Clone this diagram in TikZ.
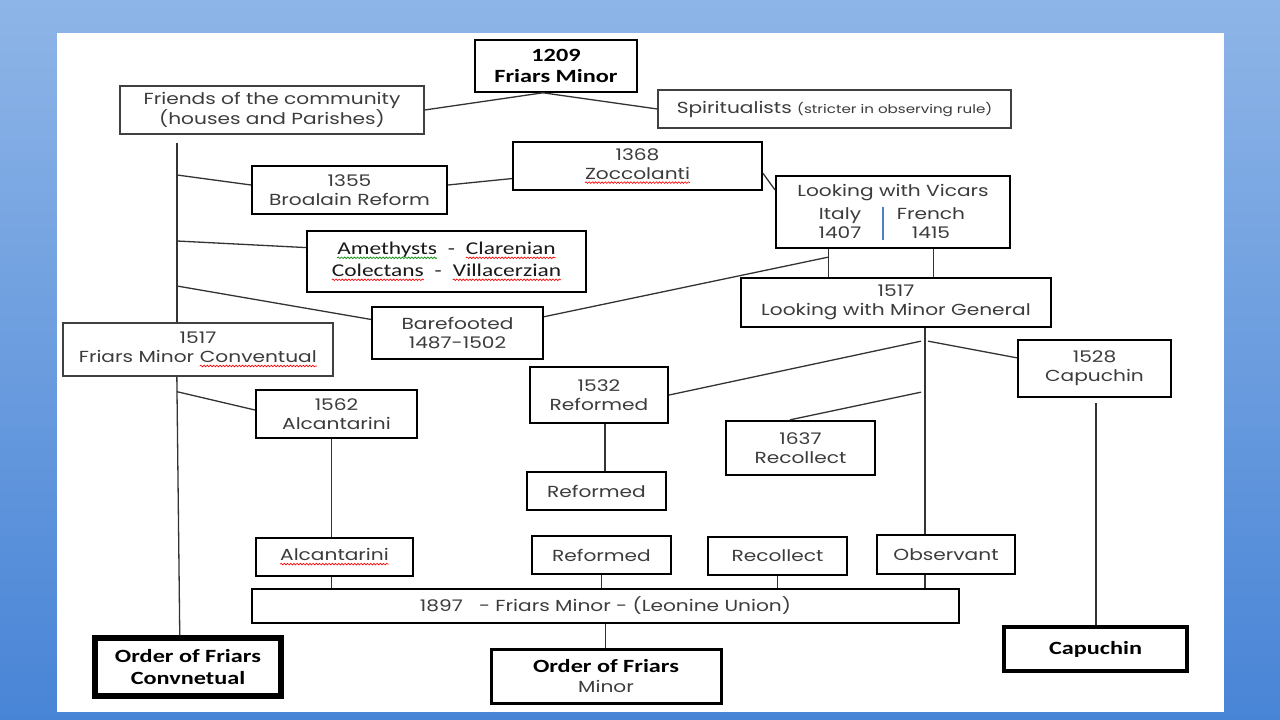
\documentclass[tikz,border=0pt]{standalone}
\usepackage{fontspec}
\setmainfont{Poppins}[FakeStretch=1.26]
\newfontfamily\calfont{Carlito}[FakeStretch=1.3]
\newfontfamily\calbold{Carlito}[FakeStretch=1.3]
\usetikzlibrary{calc,decorations.pathmorphing}
\newcommand\squig[2]{\tikz[baseline=(sqw.base), x=1pt, y=1pt]{\node[inner sep=0pt, outer sep=0pt, minimum width=0pt, minimum height=0pt, draw=none, fill=none] (sqw) {#2}; \draw[#1, line width=0.5pt, decorate, decoration={snake, amplitude=0.6pt, segment length=2.4pt}] ([yshift=-2.4pt]sqw.base west) -- ([yshift=-2.4pt]sqw.base east);}}
\newcommand\rsq[1]{\squig{red}{#1}}
\newcommand\gsq[1]{\squig{green!55!black}{#1}}
\newlength\px \setlength\px{0.75pt}
\definecolor{txtgray}{RGB}{60,60,60}
\definecolor{bgtop}{RGB}{142,181,231}
\definecolor{bgbot}{RGB}{72,132,214}
\definecolor{divblue}{RGB}{79,129,189}
\newcommand\gfont{\fontsize{12}{14.5}\selectfont}
\newcommand\bfnt{\calbold\bfseries\fontsize{14}{15.8}\selectfont}
\tikzset{
  bx/.style={draw=black, line width=2.3\px, fill=white, align=center, inner sep=0pt, text=txtgray, font=\gfont},
  thinbox/.style={draw=black!75, line width=1.3\px},
  conn/.style={draw=black!80, line width=1.3\px},
  lbl/.style={align=center, inner sep=0pt, text=txtgray, font=\gfont},
}
\begin{document}
\begin{tikzpicture}[x=0.75pt, y=-0.75pt]
\useasboundingbox (0,0) rectangle (1280,720);
\shade[top color=bgtop, bottom color=bgbot] (0,0) rectangle (1280,720);
\fill[white] (57,33) rectangle (1224,712);

% boxes
\node[bx, line width=1.6\px, text=black, font=\bfnt, minimum width=162\px, minimum height=52\px] (n1209) at (556,66) {1209\\Friars Minor};
\node[bx, thinbox, minimum width=304\px, minimum height=48\px] (friends) at (272,110) {Friends of the community\\(houses and Parishes)};
\node[bx, thinbox, minimum width=353\px, minimum height=38\px] (spirit) at (834.5,109) {Spiritualists {\fontsize{9}{10}\selectfont (stricter in observing rule)}};
\node[bx, minimum width=195\px, minimum height=48\px] (b1355) at (349.5,190) {1355\\Broalain Reform};
\node[bx, minimum width=249\px, minimum height=48\px] (b1368) at (637.5,166) {1368\\\rsq{Zoccolanti}};
\node[bx, minimum width=234\px, minimum height=72\px] (vicars) at (893,212) {};
\node[lbl] (vtitle) at ($(vicars.north)+(0,18)$) {Looking with Vicars};
\node[lbl] (vitaly) at ($(vicars.center)+(-53,11)$) {Italy\\1407};
\node[lbl] (vfrench) at ($(vicars.center)+(38,11)$) {French\\1415};
\draw[divblue, line width=1.2\px] ($(vicars.center)+(-10,-5)$) -- ($(vicars.center)+(-10,28)$);
\node[bx, text=black!90, font=\calfont\fontsize{13.5}{16.5}\selectfont, minimum width=279\px, minimum height=61\px] (ameth) at (446.5,261.5) {\gsq{Amethysts}~~-~~\rsq{Clarenian}\\\rsq{Colectans}~~-~~\rsq{Villacerzian}};
\node[bx, minimum width=171\px, minimum height=52\px] (barefoot) at (457.5,333) {Barefooted\\1487-1502};
\node[bx, minimum width=310\px, minimum height=49\px] (lmg) at (896,302.5) {1517\\Looking with Minor General};
\node[bx, thinbox, minimum width=270\px, minimum height=53\px] (conv) at (198,349.5) {1517\\Friars Minor \rsq{Conventual}};
\node[bx, minimum width=161\px, minimum height=48\px] (b1562) at (336.5,414) {1562\\Alcantarini};
\node[bx, minimum width=138\px, minimum height=56\px] (b1532) at (599,395) {1532\\Reformed};
\node[bx, minimum width=153\px, minimum height=57\px] (b1528) at (1094.5,368.5) {1528\\Capuchin};
\node[bx, minimum width=149\px, minimum height=54\px] (b1637) at (800.5,448) {1637\\Recollect};
\node[bx, minimum width=139\px, minimum height=38\px] (ref1) at (596.5,491) {Reformed};
\node[bx, minimum width=157\px, minimum height=38\px] (alc2) at (334.5,557) {\rsq{Alcantarini}};
\node[bx, minimum width=139\px, minimum height=38\px] (ref2) at (601.5,555) {Reformed};
\node[bx, minimum width=139\px, minimum height=38\px] (rec2) at (777.5,556) {Recollect};
\node[bx, minimum width=138\px, minimum height=39\px] (obs) at (946,554.5) {Observant};
\node[bx, minimum width=707\px, minimum height=34\px] (leo) at (605.5,606) {1897~~ - Friars Minor - (Leonine Union)};
\node[bx, line width=3\px, minimum width=230\px, minimum height=54\px] (ofm) at (606,676) {{\bfnt\color{black}Order of Friars}\\Minor};
\node[bx, line width=5.5\px, text=black, font=\bfnt, minimum width=186\px, minimum height=58\px] (ofc) at (188,667) {Order of Friars\\Convnetual};
\node[bx, line width=4\px, text=black, font=\bfnt, minimum width=183\px, minimum height=44\px] (capu) at (1095.5,649) {Capuchin};

% connectors
\coordinate (j1209) at ($(n1209.south west)!0.42!(n1209.south east)$);
\draw[conn] (friends.east) -- (j1209) -- (spirit.west);

\coordinate (tTop) at (177,143);
\coordinate (tB1) at (177,175);
\coordinate (tB2) at (177,241);
\coordinate (tB3) at (177,286);
\draw[conn] (tTop) -- (tTop |- conv.north);
\draw[conn] (tB1) -- ($(b1355.north west)!0.4!(b1355.south west)$);
\draw[conn] (tB2) -- ($(ameth.north west)!0.28!(ameth.south west)$);
\draw[conn] (tB3) -- ($(barefoot.north west)!0.25!(barefoot.south west)$);

\draw[conn] ($(b1355.north east)!0.4!(b1355.south east)$) -- ($(b1368.north west)!0.75!(b1368.south west)$);
\draw[conn] ($(b1368.north east)!0.65!(b1368.south east)$) -- ($(vicars.north west)!0.2!(vicars.south west)$);

\coordinate (vL) at ($(vicars.south west)!0.226!(vicars.south east)$);
\coordinate (vR) at ($(vicars.south west)!0.67!(vicars.south east)$);
\draw[conn] (vL) -- (vL |- lmg.north);
\draw[conn] (vR) -- (vR |- lmg.north);
\draw[conn] ($(vL)+(0,8)$) -- ($(barefoot.north east)!0.2!(barefoot.south east)$);

\coordinate (lB) at ($(lmg.south west)!0.593!(lmg.south east)$);
\draw[conn] (lB) -- (lB |- obs.north);
\draw[conn] ($(lB)+(-4,13)$) -- ($(b1532.north east)!0.5!(b1532.south east)$);
\draw[conn] ($(lB)+(3,13)$) -- ($(b1528.north west)!0.32!(b1528.south west)$);
\draw[conn] ($(lB)+(-4,64)$) -- ($(b1637.north west)!0.43!(b1637.north east)$);

\coordinate (k1532) at ($(b1532.south west)!0.543!(b1532.south east)$);
\draw[conn] (k1532) -- (k1532 |- ref1.north);
\coordinate (cT) at ($(b1528.south)+(1.5,5)$);
\draw[conn] (cT) -- (cT |- capu.north);

\coordinate (cB) at ($(conv.south west)!0.422!(conv.south east)$);
\draw[conn] (cB) -- ($(ofc.north west)!0.457!(ofc.north east)$);
\draw[conn] ($(cB)+(0,15)$) -- ($(b1562.north west)!0.42!(b1562.south west)$);

\coordinate (aT) at ($(b1562.south west)!0.47!(b1562.south east)$);
\draw[conn] (aT) -- (aT |- alc2.north);
\draw[conn] (aT |- alc2.south) -- (aT |- leo.north);
\draw[conn] (ref2.south) -- (ref2.south |- leo.north);
\draw[conn] (rec2.south) -- (rec2.south |- leo.north);
\draw[conn] (lB |- obs.south) -- (lB |- leo.north);
\draw[conn] (leo.south) -- (leo.south |- ofm.north);
\end{tikzpicture}
\end{document}
